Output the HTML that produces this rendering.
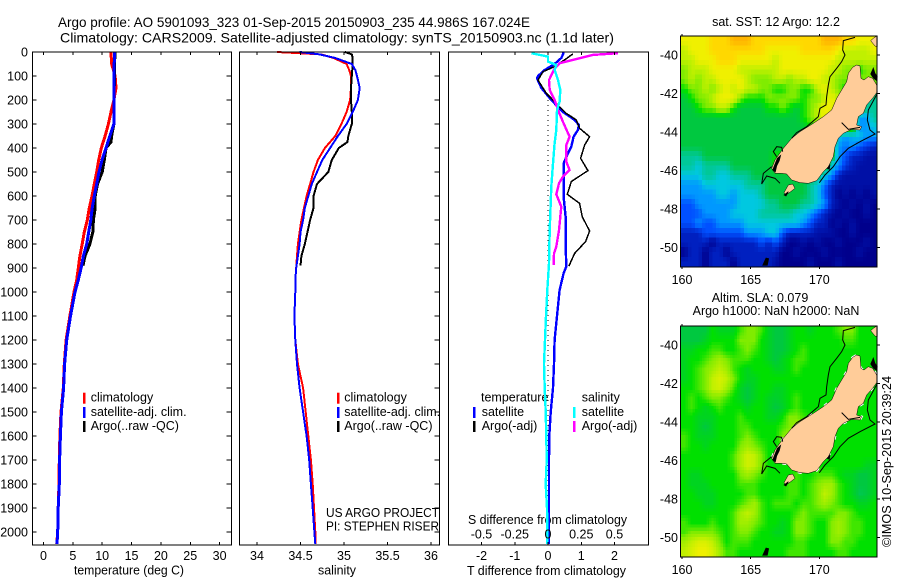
<!DOCTYPE html>
<html lang="en">
<head>
<meta charset="utf-8">
<title>Argo profile</title>
<style>
html,body{margin:0;padding:0;background:#fff;width:900px;height:580px;overflow:hidden}
svg{display:block}
text{font-family:"Liberation Sans",sans-serif;font-size:12.5px;fill:#000}
</style>
</head>
<body>
<svg id="chart" xmlns="http://www.w3.org/2000/svg" width="900" height="580" viewBox="0 0 900 580">
  <text x="58" y="27" style="font-size:14px" textLength="472" lengthAdjust="spacingAndGlyphs">Argo profile: AO 5901093_323 01-Sep-2015 20150903_235 44.986S 167.024E</text>
  <text x="60" y="42.5" style="font-size:14px" textLength="554" lengthAdjust="spacingAndGlyphs">Climatology: CARS2009. Satellite-adjusted climatology: synTS_20150903.nc (1.1d later)</text>

  <text x="74" y="574.5" textLength="110" lengthAdjust="spacingAndGlyphs">temperature (deg C)</text>
  <text x="318" y="574.5" textLength="38" lengthAdjust="spacingAndGlyphs">salinity</text>
  <text x="467" y="575" textLength="159" lengthAdjust="spacingAndGlyphs">T difference from climatology</text>
  <text x="468" y="524" textLength="159" lengthAdjust="spacingAndGlyphs">S difference from climatology</text>

  <text x="326" y="517" textLength="113" lengthAdjust="spacingAndGlyphs">US ARGO PROJECT</text>
  <text x="326" y="530.5" textLength="113" lengthAdjust="spacingAndGlyphs">PI: STEPHEN RISER</text>

  <g id="legends"></g>

  <text x="776" y="26" text-anchor="middle">sat. SST: 12 Argo: 12.2</text>
  <text x="760" y="302" text-anchor="middle">Altim. SLA: 0.079</text>
  <text x="776" y="315" text-anchor="middle">Argo h1000: NaN h2000: NaN</text>
  <text transform="translate(891,547) rotate(-90)" textLength="171" lengthAdjust="spacingAndGlyphs">©IMOS 10-Sep-2015 20:39:24</text>
</svg>

<script>
// ---------- profile data ----------
var depthClim = [0,10,25,50,75,100,150,200,250,300,350,400,450,500,550,600,650,700,750,800,850,900,950,1000,1100,1200,1300,1400,1500,1600,1700,1800,1900,2000,2050];
var tempClim = [11.5,11.5,11.55,11.6,11.9,12.2,12.35,12.0,11.5,11.05,10.5,9.85,9.4,9.06,8.66,8.26,7.8,7.47,6.95,6.6,6.2,5.93,5.65,5.2,4.5,3.85,3.55,3.38,2.98,2.8,2.7,2.64,2.5,2.42,2.25];
var tempSat = [12.07,12.07,12.07,12.05,12.05,12.03,12.02,12.0,12.0,12.0,11.3,10.65,9.97,9.45,9.06,8.66,8.3,8.05,7.7,7.36,6.8,6.4,5.93,5.37,4.6,3.95,3.6,3.43,3.05,2.88,2.75,2.7,2.5,2.42,2.3];
var salClim = [34.23,34.74,34.88,35.03,35.06,35.08,35.08,35.07,35.03,34.97,34.9,34.78,34.7,34.65,34.61,34.57,34.54,34.51,34.49,34.47,34.46,34.45,34.44,34.44,34.43,34.44,34.47,34.53,34.56,34.59,34.62,34.64,34.655,34.67,34.675];
var salSat = [34.49,34.72,34.9,35.09,35.13,35.15,35.18,35.16,35.1,35.03,34.93,34.84,34.75,34.69,34.63,34.59,34.55,34.53,34.5,34.49,34.47,34.45,34.44,34.44,34.43,34.44,34.46,34.49,34.53,34.57,34.6,34.62,34.64,34.66,34.67];
var depthArgo = [0,10,25,50,100,150,200,250,300,350,375,400,450,500,550,600,650,700,750,800,850,890];
var tempArgo = [12.2,12.2,12.15,12.1,12.1,12.05,12.05,12.03,12.0,11.6,11.5,10.65,10.36,10.0,9.2,8.8,8.8,8.5,8.4,7.9,7.07,6.73];
var salArgo = [35.01,35.09,35.1,35.1,35.09,35.08,35.08,35.09,35.09,35.05,35.04,34.94,34.86,34.82,34.69,34.65,34.65,34.61,34.58,34.55,34.51,34.5];

var depthDiffTSat = [0,10,25,50,75,100,110,150,200,250,283,304,325,353,394,422,464,603,686,797,894,922,992,1100,1200,1300,1400,1500,1600,1700,1800,1900,2000,2050];
var diffTSat = [.47,.45,.40,.2,-.1,-.3,-.33,-.2,.1,.45,.8,.93,.9,.77,.7,.6,.47,.47,.53,.53,.55,.47,.35,.27,.2,.18,.15,.08,.04,.03,.03,.03,.03,.03];
var depthDiffTArgo = [8,33,61,82,117,172,207,256,283,318,353,388,443,494,540,593,631,686,746,790,839,892];
var diffTArgo = [.75,.5,.2,-.15,-.3,-.05,.2,.55,.85,.95,1.25,1.1,.98,1.2,.7,.58,.95,1.03,1.25,1.13,.8,.63];
var depthDiffSSat = [5,19,40,54,75,117,158,207,242,325,381,464,561,742,881,992,1100,1200,1300,1400,1500,1600,1700,1800,1900,2000,2050];
var diffSSat = [-.125,0,0,.0625,.05,.075,.0925,.0875,.0675,.0625,.05,.0375,.025,.0125,.0075,-.005,-.015,-.0225,-.03,-.025,-.0175,-.0125,-.01,-.0175,-.0075,-.005,-.005];
var depthDiffSArgo = [5,12,26,47,68,117,158,200,242,297,353,388,457,492,519,547,593,644,742,811,839,887];
var diffSArgo = [.525,.3375,.2375,.0875,.05,.0075,.0125,.05,.075,.1175,.1625,.1375,.1375,.1625,.1125,.0825,.0625,.1,.0825,.0625,.045,.0425];

// ---------- axis labels ----------
var depthTicks = [0,100,200,300,400,500,600,700,800,900,1000,1100,1200,1300,1400,1500,1600,1700,1800,1900,2000];
var tempTicks = [0,5,10,15,20,25,30];
var salTicks = [34,34.5,35,35.5,36];
var salTickLabels = ['34','34.5','35','35.5','36'];
var diffTTicks = [-2,-1,0,1,2];
var diffSTicks = [-0.5,-0.25,0,0.25,0.5];
var lonTicks = [160,165,170];
var latTicks = [-40,-42,-44,-46,-48,-50];

// ---------- map grids (colour level per cell, 28 columns x 24 rows) ----------
var sstGrid = [
[10,10,10,10,11,11,11,12,12,12,11,11,11,11,11,11,11,11,11,11,12,12,12,11,11,10,10,10],
[9,10,10,10,11,11,11,11,11,11,11,11,10,10,10,10,10,11,11,11,11,11,10,9,9,9,9,10],
[9,9,10,10,10,11,11,11,10,10,10,10,10,9,10,10,10,10,10,10,10,10,9,9,9,9,9,9],
[8,9,9,9,10,10,10,10,9,9,9,9,9,9,10,10,10,10,10,10,10,9,9,8,8,7,8,8],
[8,9,8,9,9,10,10,10,10,9,8,8,8,9,9,8,9,9,10,10,9,9,8,8,8,8,8,8],
[7,8,8,9,8,9,10,9,10,9,9,8,8,7,7,8,8,7,7,9,10,9,8,7,7,7,7,7],
[6,7,8,8,9,10,10,10,8,7,7,7,8,8,8,8,8,7,8,8,9,10,9,8,8,7,5,5],
[6,6,7,8,8,9,9,7,6,6,6,6,7,7,8,7,6,7,8,9,10,10,9,8,8,8,5,5],
[6,6,6,6,6,6,6,6,6,6,6,6,6,6,6,6,6,7,8,9,10,9,9,8,8,3,3,5],
[6,6,6,6,6,6,6,6,6,6,6,6,6,6,6,6,6,6,7,7,8,9,8,8,8,3,3,4],
[6,6,6,6,6,6,6,6,6,6,6,6,6,6,6,6,6,6,6,7,7,8,4,3,3.5,4,3,3],
[6,6,6,6,6,6,6,6,6,6,6,6,6,6,6,6,6,6,7,7,7,7,3,2.5,3,2,1.5,1],
[5,5,5,6,6,6,6,6,6,6,6,6,6,7,7,7,7,7,7,7,7,7,3,2,1,1,.5,.5],
[5,5,4,5,5,5,5,6,6,6,6,6,6,7,7,7,7,7,7,7,7,4,3,1.5,1,.5,.5,.5],
[4,4,4,5,5,4,4,5,5,5,6,6,6,6,6,6,6,6,6,6,4,3,1,.5,.5,.5,.5,.5],
[3,3,3,4,4,4,4,4,4,5,5,5,6,6,6,6,6,6,5,4,2.5,1,.5,.5,.5,.5,.5,.5],
[3,3,3,3,3,4,4,3,4,4,4,5,6,6,6,6,6,6,5,4,2,1,0,.5,0,.5,0,.5],
[2,2,3,3,3,3,3,3,4,4,4,4,5,5,6,6,6,5,5,4,3,1,.5,0,.5,0,.5,0],
[2,2,2,3,3,3,3,4,4,4,4,5,5,5,5,5,4,4,3,2,1,.5,0,.5,0,0,.5,0],
[2,2,3,2,2,3,3,3,3,4,4,4,4,4,4,4,4,3,2,1,1,0,.5,0,.5,0,0,0],
[1,1,1,2,2,2,2,2,2,3,3,3,4,4,2,1,1,1,1,.5,.5,.5,0,0,.5,0,0,0],
[1,1,1,1,0,1,1,1,1,1,1,2,1,2,1,0,0,.5,0,.5,0,0,.5,0,0,0,.5,0],
[0,1,1,0,1,1,0,1,1,1,1,1,1,1,0,0,.5,0,0,0,.5,0,0,0,0,.5,0,0],
[1,1,1,0,1,1,1,0,1,1,1,1,1,.5,0,0,0,0,.5,0,0,0,.5,0,0,0,0,0]
];
var slaGrid = [
[6,6,6,6,7,6.5,6.5,6.5,7.5,8,8,7.5,6.5,6,6,6.5,7,7,6.5,7,7,7,7.5,8,8,7,7,7],
[6,6,6,6.5,7,7,7,7,8,8,8,7,6.5,6,6,6.5,7,7,7,7,7,7,7,7.5,7.5,7,7,7],
[6.5,6.5,7,7,7.5,7.5,7,7,7.5,8,7.5,7,6.5,6,6,6.5,7,7.5,7,7,7,7,7,7,7,7,7,7],
[6.5,7,7,7.5,8,8.5,8,7.5,7.5,7.5,7,7,6.5,6,6.5,7,7.5,7.5,7,7,7,7,7,7,7,7,7,7],
[6.5,7,7.5,8,8.5,9,8.5,7.5,7,6.5,7,7,7,6.5,6.5,7,7.5,7,7,7,7,7,7,7,7,7,7,7],
[6.5,7,7.5,8,9,9.5,9,8,7,6.5,6.5,7,7,7,7,7,7,7,7,7,7,7,7,7,7,7,7,7],
[7,7,7.5,8,9,9.3,8.5,7.5,6.5,6,6.5,7,7,6.5,6.5,7,7,7,7,7,7,7,7,7,7,7,7,7],
[7,7.5,7,7.5,8,8,7.5,7,6.5,6,6.5,7,6.5,6.3,6.5,7,7.5,7,7,7,7,7,7,7,7,7,7,7],
[7,7.5,7,6.5,7,7.5,7,7,7,6.5,7,7,6.5,6,6.3,7,7.5,7,7,7,7,7,7,7,7,7,7,7],
[7,7,6.5,6.5,6.5,7,7,7,7.5,7,7,7,6.5,6.5,7,8,8,7.5,7,7,7,7,7,7,7,7,7,7],
[7,7,6.5,6,6.5,7,7,7,7.5,7.5,7,7,7,7,7.5,8,8.5,8,7,7,7,7,7,7,7,7,7,7],
[7.5,7,6.5,6.5,6.5,7,7,7,7.5,8,7.5,7,7,7,8,8.5,8,7,7,7,7,7,7,7,7,7,7,7],
[7.5,7,7,6.5,7,7,7,7,8,8.5,8,7.5,7,7,7.5,7.5,7,7,7,7,7,7,7,7,7,7,7,7],
[7,7,7,7,7,7,7,7.5,8.5,9.3,9,8,7,7,7,7,7,7,7,7,7,7,7,7,7,7,7,7],
[7,7,7,7,7,7,7,7.5,8.5,9.3,9,8,7,7,7,7,7,7,7,7,7,7,7,7,7,7,6.5,6.5],
[7,6.5,6.5,7,7,7,7,7,8,8.5,8,7.5,7,7,7,7,7.5,7,7,7.5,7.5,7.5,7,6.5,6.5,6,6,6.5],
[7,6.5,6.5,6.5,7,7,7,7,7.5,7.5,7.5,7,7,7,7,7.5,7.5,7,7.5,8,8.5,8.5,7.5,7,6.5,6,6,6.5],
[7,7,6.5,6.5,6.5,7,7,7,7,7.5,7.5,7,7,7,7,7.5,7.5,7,7.5,8,9,8.5,7.5,7,6.5,5.8,6,6.5],
[7,7,7,6.5,6.5,7,7,7,7.5,8,8.5,7.5,7,7.5,7.5,7.5,7,7.5,7.5,8,8.5,8,7.5,7,7,6.5,6.5,7],
[7,7,7,7,7,7,7,7.5,8.5,9,8.5,7.5,7,7,7,7,7.5,8,7.5,7.5,7.5,7.5,8,8,7.5,7,7,7],
[7.5,7,7,7,7.5,7,7,7.5,8.5,8.5,8,7.5,7,7,6.5,7,8,8,7.5,7,7,8,8.5,8,7.5,7.5,7,7],
[7.5,8,8,8,8,7.5,7,7.5,8,8,7.5,7,7,6.5,6.5,7,8,8,7.5,7,7,8,8.5,8,7.5,7.5,7,7],
[8.5,9,9.5,9.5,9,8,7,7.5,7.5,7.5,7,7,7,7,7,7,7.5,7.5,7,7,7,8,8,7.5,7.5,7,7,7],
[9,9.5,10,10,9.5,8.5,7.5,7.5,7,7,7,7,7,7,7,7.5,7.5,7.5,7,7,7,7,7.5,7.5,7,7,7,7]
];
var levelColors = [[0,0,140],[0,32,192],[0,80,255],[0,152,255],[0,200,224],[0,200,152],[0,200,64],[0,224,0],[128,236,0],[192,240,0],[240,240,0],[255,216,0],[255,180,0]];

// ---------- helpers ----------
var NS = 'http://www.w3.org/2000/svg';
var svg = document.getElementById('chart');
function mk(tag, parent, attrs) {
  var el = document.createElementNS(NS, tag);
  for (var k in attrs) el.setAttribute(k, attrs[k]);
  parent.appendChild(el);
  return el;
}
function levelColor(v) {
  var i = Math.max(0, Math.min(levelColors.length - 2, Math.floor(v)));
  var f = Math.max(0, Math.min(1, v - i));
  var a = levelColors[i], b = levelColors[i + 1];
  return 'rgb(' + Math.round(a[0] + (b[0] - a[0]) * f) + ',' + Math.round(a[1] + (b[1] - a[1]) * f) + ',' + Math.round(a[2] + (b[2] - a[2]) * f) + ')';
}
function gridLevel(grid, fr, fc) {
  var maxR = grid.length - 1, maxC = grid[0].length - 1;
  var rr = Math.max(0, Math.min(maxR, fr)), cc = Math.max(0, Math.min(maxC, fc));
  var r0 = Math.floor(rr), c0 = Math.floor(cc);
  var r1 = Math.min(maxR, r0 + 1), c1 = Math.min(maxC, c0 + 1);
  var u = rr - r0, v = cc - c0;
  return (grid[r0][c0] * (1 - v) + grid[r0][c1] * v) * (1 - u) + (grid[r1][c0] * (1 - v) + grid[r1][c1] * v) * u;
}

// ---------- axis functions ----------
var plotTop = 52, plotBottom = 545;
function yDepth(d) { return plotTop + d * 0.24; }
function xTemp(v) { return 43.5 + v * 5.87; }
function xSal(v) { return 257 + (v - 34) * 87; }
function xDiffT(v) { return 548 + v * 33.25; }
function xDiffS(v) { return 548 + v * 133; }

function drawLine(parent, depths, values, xFn, color, width, name) {
  var pts = [];
  for (var i = 0; i < depths.length; i++) pts.push(xFn(values[i]).toFixed(1) + ',' + yDepth(depths[i]).toFixed(1));
  var el = mk('polyline', parent, {points: pts.join(' '), fill: 'none', stroke: color, 'stroke-width': width, 'shape-rendering': 'crispEdges'});
  
  
}

function drawFrame(name, left, right) {
  var g = mk('g', svg, {});
  
  
  return g;
}
function drawBox(g, left, top, right, bottom) {
  var box = mk('rect', g, {x: left, y: top, width: right - left, height: bottom - top, fill: 'none', stroke: '#000', 'stroke-width': 1.4, 'shape-rendering': 'crispEdges'});
  
  
}
function drawXTicks(g, ticks, labels, xFn, top, bottom, labelY, len) {
  for (var i = 0; i < ticks.length; i++) {
    var x = xFn(ticks[i]);
    var t1 = mk('line', g, {x1: x, x2: x, y1: top, y2: top + len, stroke: '#000', 'stroke-width': 1, 'shape-rendering': 'crispEdges'});
    
    
    var t2 = mk('line', g, {x1: x, x2: x, y1: bottom - len, y2: bottom, stroke: '#000', 'stroke-width': 1, 'shape-rendering': 'crispEdges'});
    
    
    var lab = mk('text', g, {x: x, y: labelY, 'text-anchor': 'middle'});
    lab.textContent = labels[i];
    
    
  }
}
function drawDepthTicks(g, left, right, withLabels) {
  for (var i = 0; i < depthTicks.length; i++) {
    var y = yDepth(depthTicks[i]);
    var t1 = mk('line', g, {x1: left, x2: left + 4, y1: y, y2: y, stroke: '#000', 'stroke-width': 1, 'shape-rendering': 'crispEdges'});
    
    
    var t2 = mk('line', g, {x1: right - 5, x2: right, y1: y, y2: y, stroke: '#000', 'stroke-width': 1, 'shape-rendering': 'crispEdges'});
    
    
    if (withLabels) {
      var lab = mk('text', g, {x: 28, y: y + 4.5, 'text-anchor': 'end'});
      lab.textContent = depthTicks[i];
      
      
    }
  }
}

// ---------- temperature panel ----------
var p1 = drawFrame('temperature-panel');
drawLine(p1, depthClim, tempClim, xTemp, '#ff0000', 3, 'temperature-climatology-line');
drawLine(p1, depthArgo, tempArgo, xTemp, '#000000', 3, 'temperature-argo-line');
drawLine(p1, depthClim, tempSat, xTemp, '#0000ff', 3, 'temperature-satellite-line');
drawBox(p1, 32.5, plotTop, 231.5, plotBottom);
drawDepthTicks(p1, 32.5, 231.5, true);
drawXTicks(p1, tempTicks, tempTicks, xTemp, plotTop, plotBottom, 560, 3);

// ---------- salinity panel ----------
var p2 = drawFrame('salinity-panel');
drawLine(p2, depthClim, salClim, xSal, '#ff0000', 2, 'salinity-climatology-line');
drawLine(p2, depthArgo, salArgo, xSal, '#000000', 2, 'salinity-argo-line');
drawLine(p2, depthClim, salSat, xSal, '#0000ff', 2, 'salinity-satellite-line');
drawBox(p2, 239.5, plotTop, 439.5, plotBottom);
drawDepthTicks(p2, 435.5, 439.5, false);
drawXTicks(p2, salTicks, salTickLabels, xSal, plotTop, plotBottom, 560, 3);

// ---------- difference panel ----------
var p3 = drawFrame('difference-panel');
var zero = mk('line', p3, {x1: xDiffT(0), x2: xDiffT(0), y1: 100, y2: plotBottom, stroke: '#000', 'stroke-width': 1, 'stroke-dasharray': '1 4', 'shape-rendering': 'crispEdges'});


drawLine(p3, depthDiffTSat, diffTSat, xDiffT, '#0000ff', 2.4, 't-difference-satellite-line');
drawLine(p3, depthDiffTArgo, diffTArgo, xDiffT, '#000000', 1.5, 't-difference-argo-line');
drawLine(p3, depthDiffSArgo, diffSArgo, xDiffS, '#ff00ff', 2.4, 's-difference-argo-line');
drawLine(p3, depthDiffSSat, diffSSat, xDiffS, '#00ffff', 2.4, 's-difference-satellite-line');
drawBox(p3, 448.5, plotTop, 648.5, plotBottom);
drawXTicks(p3, diffTTicks, diffTTicks, xDiffT, plotTop, plotBottom, 560, 3);
for (var si = 0; si < diffSTicks.length; si++) {
  var sLab = mk('text', p3, {x: xDiffS(diffSTicks[si]), y: 538.5, 'text-anchor': 'middle'});
  sLab.textContent = diffSTicks[si];
  
  
}

// ---------- legends ----------
var legendEntries = [
  [84, 90.7, 401.7, '#ff0000', 'climatology'],
  [84, 90.7, 416, '#0000ff', 'satellite-adj. clim.'],
  [84, 90.7, 430, '#000000', 'Argo(..raw -QC)'],
  [338, 344.3, 401.7, '#ff0000', 'climatology'],
  [338, 344.3, 416, '#0000ff', 'satellite-adj. clim.'],
  [338, 344.3, 430, '#000000', 'Argo(..raw -QC)'],
  [474, 481.7, 416, '#0000ff', 'satellite'],
  [474, 481.7, 430, '#000000', 'Argo(-adj)'],
  [574, 581.7, 416, '#00ffff', 'satellite'],
  [574, 581.7, 430, '#ff00ff', 'Argo(-adj)']
];
var lg = document.getElementById('legends');
for (var li = 0; li < legendEntries.length; li++) {
  var e = legendEntries[li];
  var m = mk('rect', lg, {x: e[0] - 1, y: e[2] - 9, width: 2.5, height: 11, fill: e[3]});
  
  
  var lt = mk('text', lg, {x: e[1], y: e[2]});
  lt.textContent = e[4];
  
  
}
var lh1 = mk('text', lg, {x: 481, y: 401.7});
lh1.textContent = 'temperature';


var lh2 = mk('text', lg, {x: 581.7, y: 401.7});
lh2.textContent = 'salinity';



// ---------- maps ----------
var mapLeft = 681, mapRight = 877, cellW = 7, cellH = 9.6;
function xLon(lon) { return 682 + (lon - 160) * 13.73; }
var landPts = '578,172 590,165 600,168 603,205 612,210 625,200 638,205 650,225 652,245 640,262 620,285 610,310 595,320 590,345 605,350 600,360 575,358 550,370 535,385 525,410 520,440 505,470 490,485 470,512 445,520 420,518 395,510 380,492 365,490 345,490 335,475 345,450 370,415 395,385 420,365 460,340 490,320 515,300 530,265 545,240 560,215 565,190';
var stewartPts = '385,525 398,522 405,535 392,545 378,555 372,548';
var cornerPts = '652,77 640,85 632,92 645,108 652,110';
var contourLines = [
  '585,82 550,92 548,120 555,135 545,155 530,175 510,200 505,225 500,260 498,285 480,295 475,320 440,350 410,368 395,385',
  '652,250 625,300 622,330 630,360 645,372 600,395 565,415 540,440 520,470 495,495 478,518',
  '335,470 310,490 305,522 320,498 345,505 360,520',
  '545,338 565,358 600,352',
  '350,440 340,425 350,410 365,412 368,425'
];
var blackBlobs = ['338,480 345,462 352,445 362,436 358,452 350,468 346,486', '632,192 640,174 645,190 652,200 650,212 640,204', '308,766 318,744 326,746 322,766', '372,555 385,545 378,558', '502,475 510,464 508,478'];

function drawMap(name, grid, top, zoomY, whiteSpecks, sub) {
  var g = mk('g', svg, {});
  
  
  var bg = mk('rect', g, {x: mapLeft, y: top, width: mapRight - mapLeft, height: 231, fill: '#fff'});
  
  
  var rows = grid.length * sub, cols = grid[0].length * sub;
  var sw = cellW / sub, sh = cellH / sub;
  for (var r = 0; r < rows; r++) {
    for (var c = 0; c < cols; c++) {
      var level = gridLevel(grid, (r + .5) / sub - .5, (c + .5) / sub - .5);
      var cell = mk('rect', g, {x: (mapLeft + c * sw).toFixed(2), y: (top + r * sh).toFixed(2), width: (sw + .4).toFixed(2), height: (sh + .4).toFixed(2), fill: levelColor(level), 'shape-rendering': 'crispEdges'});
      
      
    }
  }
  var geo = mk('g', g, {transform: 'translate(660,' + zoomY + ') scale(0.33333)'});
  
  
  if (whiteSpecks) {
    var halo = mk('polygon', geo, {points: landPts, fill: 'none', stroke: '#fff', 'stroke-width': 7, 'stroke-dasharray': '12 44'});
    
    
  }
  var isl = [landPts, stewartPts, cornerPts];
  for (var i = 0; i < isl.length; i++) {
    var p = mk('polygon', geo, {points: isl[i], fill: '#ffcc99', stroke: '#000', 'stroke-width': 1.5});
    
    
  }
  for (var j = 0; j < blackBlobs.length; j++) {
    var b = mk('polygon', geo, {points: blackBlobs[j], fill: '#000', stroke: '#000', 'stroke-width': 2});
    
    
  }
  for (var k = 0; k < contourLines.length; k++) {
    var l = mk('polyline', geo, {points: contourLines[k], fill: 'none', stroke: '#000', 'stroke-width': 3});
    
    
  }
  var box = mk('rect', g, {x: mapLeft - .5, y: top, width: mapRight - mapLeft + .5, height: 231, fill: 'none', stroke: '#000', 'stroke-width': 1.2, 'shape-rendering': 'crispEdges'});
  
  
  var lat40Y = top + 19;
  for (var a = 0; a < lonTicks.length; a++) {
    var x = xLon(lonTicks[a]);
    var t1 = mk('line', g, {x1: x, x2: x, y1: top - 2, y2: top, stroke: '#000', 'shape-rendering': 'crispEdges'});
    
    
    var t2 = mk('line', g, {x1: x, x2: x, y1: top + 231, y2: top + 233, stroke: '#000', 'shape-rendering': 'crispEdges'});
    
    
    var lab = mk('text', g, {x: x, y: top + 248, 'text-anchor': 'middle'});
    lab.textContent = lonTicks[a];
    
    
  }
  for (var d = 0; d < latTicks.length; d++) {
    var y = lat40Y + (-40 - latTicks[d]) * 19.23;
    var t3 = mk('line', g, {x1: mapRight, x2: mapRight + 3, y1: y, y2: y, stroke: '#000', 'shape-rendering': 'crispEdges'});
    
    
    var lab2 = mk('text', g, {x: 678, y: y + 4.5, 'text-anchor': 'end'});
    lab2.textContent = latTicks[d];
    
    
  }
}
drawMap('sst-map', sstGrid, 36, 10, false, 2);
drawMap('sla-map', slaGrid, 326, 300, true, 3);
</script>
</body>
</html>
